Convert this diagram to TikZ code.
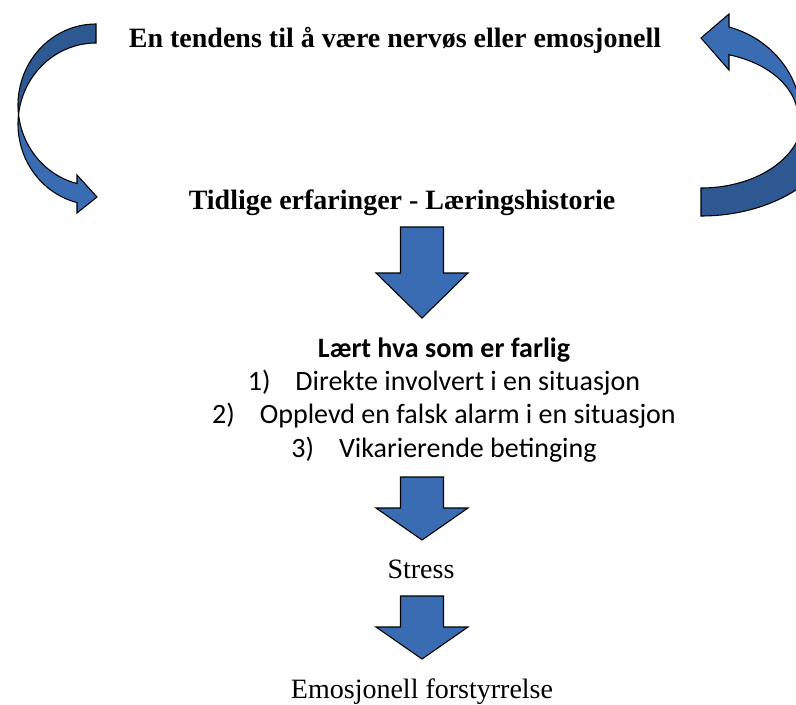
\documentclass[tikz,border=0pt]{standalone}
\usepackage{fontspec}
\setmainfont{Liberation Serif}
\newfontfamily\calibrifont{Carlito}
\definecolor{arrowblue}{RGB}{57,108,178}
\definecolor{arrowdark}{RGB}{45,88,145}
\tikzset{
	serifbold/.style = {inner sep=0pt, anchor=base, font=\fontsize{21}{25}\selectfont\bfseries},
	serifplain/.style = {inner sep=0pt, anchor=base, font=\fontsize{21}{25}\selectfont},
	listhead/.style = {inner sep=0pt, anchor=base, font=\calibrifont\fontsize{21}{25}\selectfont\bfseries},
	listitem/.style = {inner sep=0pt, anchor=base, font=\calibrifont\fontsize{21}{25}\selectfont},
	blockarrow/.style = {draw=black, line width=0.8pt, line join=miter, fill=arrowblue},
	backface/.style = {draw=black, line width=0.8pt, fill=arrowdark},
}
\begin{document}
\begin{tikzpicture}[x=0.75pt, y=-0.75pt]
		\clip (0,0) rectangle (796,704);
		% curved arrow on the left
		\draw[backface] plot[domain=270:173.26, variable=\t, samples=60] ({96+78*cos(\t)},{105+81*sin(\t)})
			-- plot[domain=186.74:270, variable=\t, samples=60] ({96+78*cos(\t)},{124+81*sin(\t)}) -- cycle;
		\draw[blockarrow] plot[domain=173.26:104.1, variable=\t, samples=60] ({96+78*cos(\t)},{105+81*sin(\t)})
			-- (77,175) -- (97,197) -- (77,213)
			-- plot[domain=104.1:186.74, variable=\t, samples=60] ({96+78*cos(\t)},{124+81*sin(\t)}) -- cycle;
		% curved arrow on the right, cut by the edge
		\draw[backface] plot[domain=90:0, variable=\t, samples=60] ({701+101.7*cos(\t)},{118+70*sin(\t)})
			-- plot[domain=0:90, variable=\t, samples=60] ({701+140*cos(\t)},{118+98*sin(\t)}) -- cycle;
		\draw[blockarrow] plot[domain=0:-73.77, variable=\t, samples=60] ({701+100.2*cos(\t)},{118+94.8*sin(\t)})
			-- (729,14) -- (701,38) -- (729,70)
			-- plot[domain=-73.22:0, variable=\t, samples=60] ({701+97*cos(\t)},{118+66*sin(\t)}) -- cycle;
		% texts
		\node[serifbold] (tendency) at (395,47) {En tendens til å være nervøs eller emosjonell};
		\node[serifbold] (history) at (402,209) {Tidlige erfaringer - Læringshistorie};
		\node[listhead] (learned) at (444,357) {Lært hva som er farlig};
		\node[listitem] (item1) at (444,390) {1)\hspace{18.75pt}Direkte involvert i en situasjon};
		\node[listitem] (item2) at (444,423) {2)\hspace{18.75pt}Opplevd en falsk alarm i en situasjon};
		\node[listitem] (item3) at (444,457) {3)\hspace{18.75pt}Vikarierende betinging};
		\node[serifplain] (stress) at (421,578) {Stress};
		\node[serifplain] (disorder) at (422,698) {Emosjonell forstyrrelse};
		% block arrows down
		\draw[blockarrow] (400.5,227) -- (443.5,227) -- (443.5,273) -- (468,273) -- (422,318) -- (376,273) -- (400.5,273) -- cycle;
		\draw[blockarrow] (400.5,477) -- (443.5,477) -- (443.5,508) -- (468,508) -- (422,540) -- (376,508) -- (400.5,508) -- cycle;
		\draw[blockarrow] (400.5,596) -- (443.5,596) -- (443.5,627) -- (468,627) -- (422,659) -- (376,627) -- (400.5,627) -- cycle;
\end{tikzpicture}
\end{document}
